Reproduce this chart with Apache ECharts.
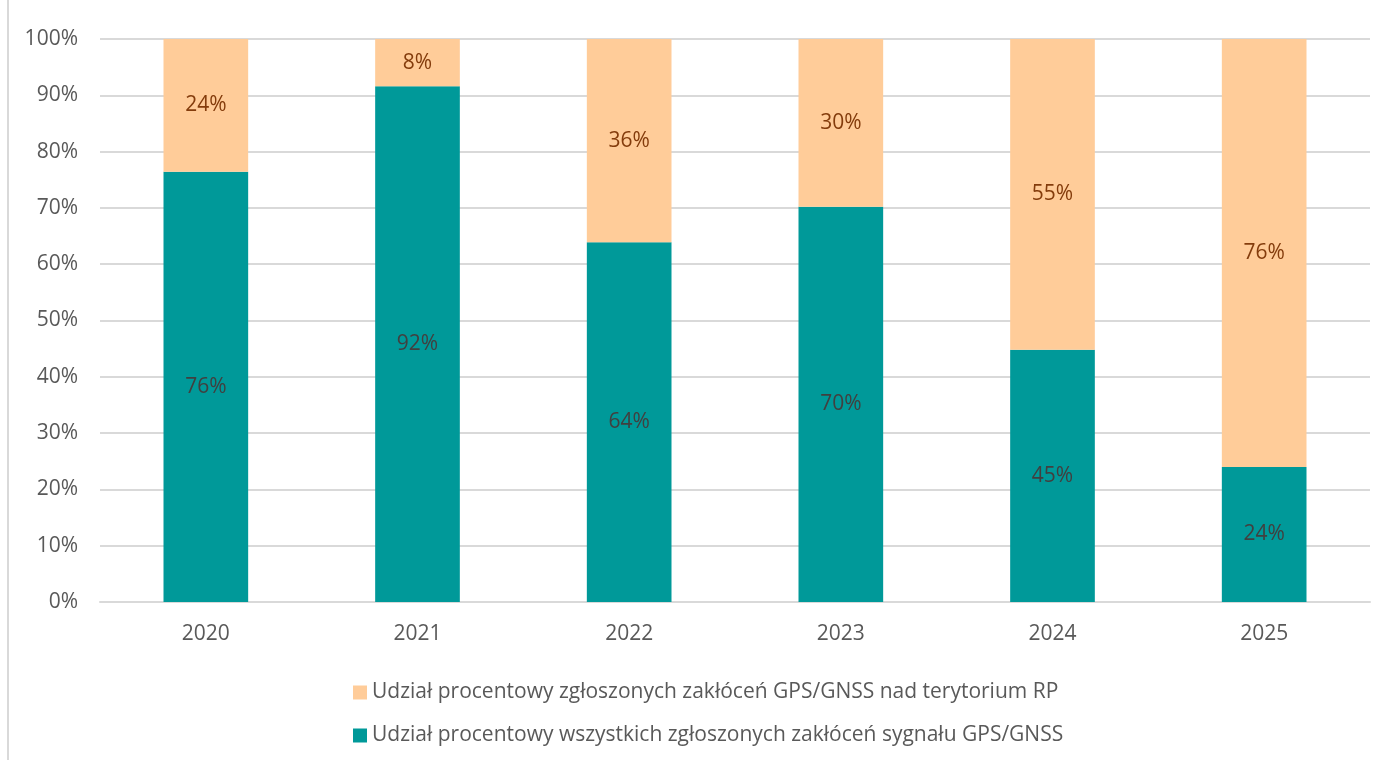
<!DOCTYPE html>
<html>
<head>
<meta charset="utf-8">
<script src="https://cdn.jsdelivr.net/npm/echarts@6/dist/echarts.min.js"></script>
<style>
html, body { margin: 0; padding: 0; background: #fff; }
#chart { width: 1390px; height: 761px; }
#frame { position: absolute; left: 7px; top: 0; width: 2px; height: 760px; background: #d9d9d9; }
</style>
</head>
<body>
<div id="frame"></div>
<div id="chart"></div>
<script type="text/javascript">
	// lata
	var years = ['2020', '2021', '2022', '2023', '2024', '2025'];
	// udział wszystkich zgłoszonych zakłóceń (dolna część słupka)
	var allShare = [76.4, 91.6, 63.9, 70.2, 44.8, 24.0];
	// udział zakłóceń nad terytorium RP (górna część)
	var rpShare = [23.6, 8.4, 36.1, 29.8, 55.2, 76.0];
	var yTicks = [0, 10, 20, 30, 40, 50, 60, 70, 80, 90, 100];

	var nameAll = 'Udział procentowy wszystkich zgłoszonych zakłóceń sygnału GPS/GNSS';
	var nameRp = 'Udział procentowy zgłoszonych zakłóceń GPS/GNSS nad terytorium RP';
	var font = 'Open Sans';
	var fs = 21;

	var option = {
		textStyle : { fontFamily : font },
		animation : false,
		grid : { left : 100, right : 20, top : 39, bottom : 159 },
		legend : {
			orient : 'vertical',
			left : 348,
			top : 677,
			itemGap : 22,
			itemWidth : 14,
			itemHeight : 14,
			icon : 'rect',
			data : [ nameRp, nameAll ],
			textStyle : { fontFamily : font, fontSize : fs, color : '#595959' }
		},
		xAxis : {
			type : 'category',
			data : years,
			axisTick : { show : false },
			axisLine : { lineStyle : { color : '#d9d9d9', width : 2 } },
			axisLabel : { fontFamily : font, fontSize : fs, color : '#595959', margin : 22 }
		},
		yAxis : {
			type : 'value',
			min : yTicks[0],
			max : yTicks[yTicks.length - 1],
			interval : 10,
			splitLine : { lineStyle : { color : '#d9d9d9', width : 2 } },
			axisLabel : {
				fontFamily : font, fontSize : fs, color : '#595959', margin : 22,
				formatter : function (v) { return v + '%'; }
			}
		},
		series : [ {
			name : nameAll,
			type : 'bar',
			stack : 'total',
			barWidth : '40%',
			data : allShare,
			itemStyle : { color : '#009999' },
			label : {
				show : true, position : 'inside',
				fontFamily : font, fontSize : fs, color : '#404040',
				formatter : function (p) { return Math.round(p.value) + '%'; }
			}
		}, {
			name : nameRp,
			type : 'bar',
			stack : 'total',
			data : rpShare,
			itemStyle : { color : '#ffcc99' },
			label : {
				show : true, position : 'inside',
				fontFamily : font, fontSize : fs, color : '#843c0c',
				formatter : function (p) { return Math.round(p.value) + '%'; }
			}
		} ]
	};

	var chart = echarts.init(document.getElementById('chart'));
	chart.setOption(option);
</script>
</body>
</html>
